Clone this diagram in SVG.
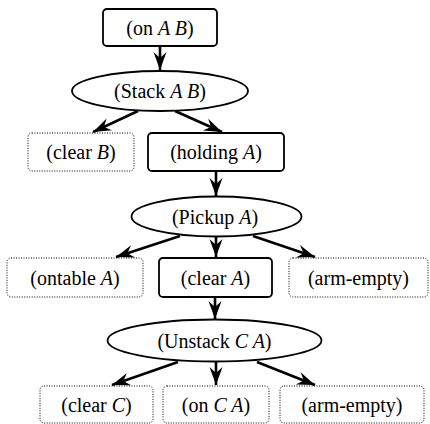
<svg xmlns="http://www.w3.org/2000/svg" width="430" height="424" viewBox="0 0 430 424">
  <style>
    .goal { fill: #fff; stroke: #000; stroke-width: 1.8; }
    .done { fill: #fff; stroke: #000; stroke-width: 1; stroke-dasharray: 1 1.5; }
    .op { fill: #fff; stroke: #000; stroke-width: 1.8; }
    text { font-family: 'Liberation Serif', 'Times New Roman', Times, serif; font-size: 20px; fill: #000; text-anchor: middle; }
    .v { font-style: italic; }
    .edge { stroke: #000; stroke-width: 2.6; fill: none; marker-end: url(#head); }
  </style>
  <defs>
    <marker id="head" markerUnits="userSpaceOnUse" markerWidth="20" markerHeight="16" refX="18" refY="7" orient="auto" overflow="visible">
      <path d="M18,7 L0,0.5 L6,7 L0,13.5 Z" fill="#000"/>
    </marker>
  </defs>

  <!-- connectors -->
  <g id="edges">
    <line class="edge" x1="160" y1="46" x2="160" y2="70"/>
    <line class="edge" x1="138" y1="111" x2="93" y2="132"/>
    <line class="edge" x1="175" y1="111" x2="222" y2="132"/>
    <line class="edge" x1="216" y1="171" x2="216" y2="196"/>
    <line class="edge" x1="180" y1="236" x2="116" y2="257"/>
    <line class="edge" x1="216" y1="237" x2="216" y2="257"/>
    <line class="edge" x1="253" y1="236" x2="315" y2="257"/>
    <line class="edge" x1="215" y1="297" x2="215" y2="319"/>
    <line class="edge" x1="178" y1="362" x2="112" y2="385"/>
    <line class="edge" x1="216" y1="362" x2="216" y2="385"/>
    <line class="edge" x1="257" y1="362" x2="315" y2="385"/>
  </g>

  <g id="on-A-B">
    <rect class="goal" x="103" y="9" width="114" height="37" rx="4"/>
    <text x="160" y="34.5">(on <tspan class="v">A B</tspan>)</text>
  </g>
  <g id="stack-A-B">
    <ellipse class="op" cx="160" cy="91" rx="88" ry="20"/>
    <text x="160" y="98">(Stack <tspan class="v">A B</tspan>)</text>
  </g>
  <g id="clear-B">
    <rect class="done" x="28" y="133" width="106" height="38" rx="4"/>
    <text x="81" y="159">(clear <tspan class="v">B</tspan>)</text>
  </g>
  <g id="holding-A">
    <rect class="goal" x="148" y="133" width="136" height="38" rx="4"/>
    <text x="216" y="159">(holding <tspan class="v">A</tspan>)</text>
  </g>
  <g id="pickup-A">
    <ellipse class="op" cx="216.5" cy="216.5" rx="85" ry="20"/>
    <text x="215" y="224">(Pickup <tspan class="v">A</tspan>)</text>
  </g>
  <g id="ontable-A">
    <rect class="done" x="7" y="258" width="136" height="39" rx="4"/>
    <text x="75" y="284.5">(ontable <tspan class="v">A</tspan>)</text>
  </g>
  <g id="clear-A">
    <rect class="goal" x="159" y="258" width="113" height="39" rx="4"/>
    <text x="215.5" y="284.5">(clear <tspan class="v">A</tspan>)</text>
  </g>
  <g id="arm-empty-1">
    <rect class="done" x="289" y="258" width="139" height="39" rx="4"/>
    <text x="358.5" y="284.5">(arm-empty)</text>
  </g>
  <g id="unstack-C-A">
    <ellipse class="op" cx="214.5" cy="340.5" rx="107" ry="21"/>
    <text x="214.5" y="348">(Unstack <tspan class="v">C A</tspan>)</text>
  </g>
  <g id="clear-C">
    <rect class="done" x="40" y="386" width="113" height="37" rx="4"/>
    <text x="96.5" y="412">(clear <tspan class="v">C</tspan>)</text>
  </g>
  <g id="on-C-A">
    <rect class="done" x="163" y="386" width="106" height="37" rx="4"/>
    <text x="216" y="412">(on <tspan class="v">C A</tspan>)</text>
  </g>
  <g id="arm-empty-2">
    <rect class="done" x="280" y="386" width="144" height="37" rx="4"/>
    <text x="352" y="412">(arm-empty)</text>
  </g>
</svg>
